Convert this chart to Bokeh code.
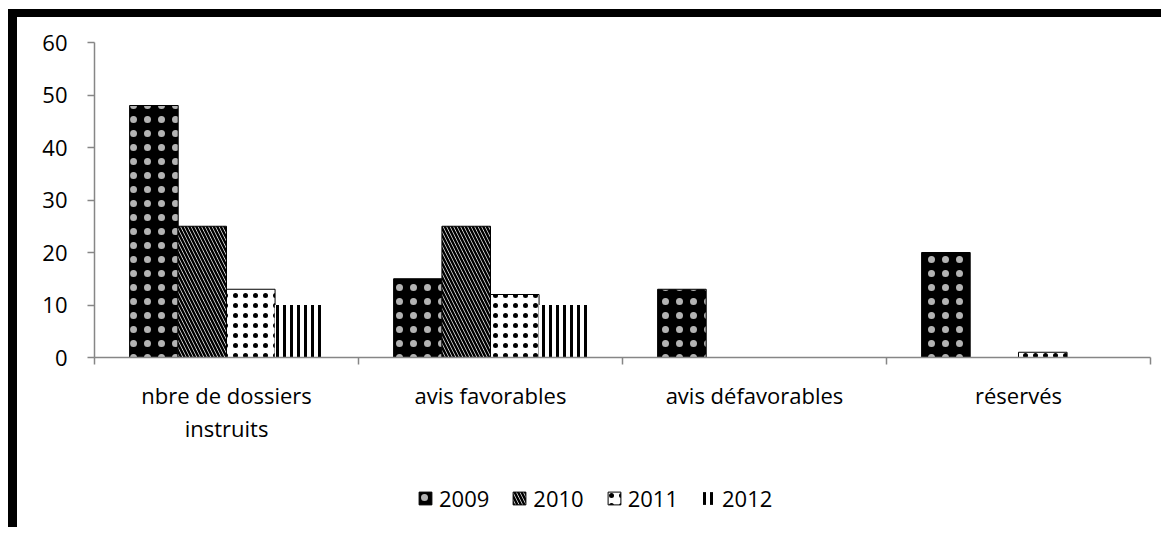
from bokeh.plotting import figure
from bokeh.layouts import column
from bokeh.models import Range1d, FixedTicker, Legend, LegendItem, ColumnDataSource
from bokeh.transform import dodge
from bokeh.embed import file_html
from bokeh.resources import INLINE

categories = ["nbre de dossiers\ninstruits", "avis favorables", "avis défavorables", "réservés"]
years = ["2009", "2010", "2011", "2012"]
v2009 = [48, 15, 13, 20]
v2010 = [25, 25, 0, 0]
v2011 = [13, 12, 0, 1]
v2012 = [10, 10, 0, 0]
y_ticks = [0, 10, 20, 30, 40, 50, 60]

FONT = "Open Sans"
FS = "22px"

pos = [i + 0.5 for i in range(len(categories))]
src = ColumnDataSource(dict(x=pos, v2009=v2009, v2010=v2010, v2011=v2011, v2012=v2012))

p = figure(width=1161, height=460, output_backend="svg", toolbar_location=None,
           x_range=Range1d(0, len(categories)), y_range=Range1d(0, 60),
           min_border_left=94, min_border_top=42, min_border_right=11, min_border_bottom=103)
p.outline_line_color = None
p.xgrid.visible = False
p.ygrid.visible = False
p.background_fill_color = "white"
p.border_fill_color = None

bw = 0.184
styles = [
    dict(fill_color="black", line_color="black", hatch_pattern="dot", hatch_color="white",
         hatch_scale=14, hatch_weight=0.5, hatch_alpha=0.7),
    dict(fill_color="white", line_color="black", hatch_pattern="left_diagonal_line",
         hatch_color="black", hatch_scale=7, hatch_weight=2.5),
    dict(fill_color="white", line_color="black", hatch_pattern="dot", hatch_color="black",
         hatch_scale=10, hatch_weight=4),
    dict(fill_color="white", line_color=None, hatch_pattern="vertical_line",
         hatch_color="black", hatch_scale=7, hatch_weight=3),
]
offsets = [-0.275, -0.092, 0.092, 0.275]
for yr, off, st in zip(years, offsets, styles):
    p.vbar(x=dodge("x", off, range=p.x_range), top="v" + yr, width=bw, bottom=0,
           source=src, line_width=1, **st)

for ax in (p.xaxis[0], p.yaxis[0]):
    ax.axis_line_color = "#868686"
    ax.axis_line_width = 1.5
    ax.major_tick_line_color = "#868686"
    ax.minor_tick_line_color = "#868686"
    ax.major_tick_line_width = 1.5
    ax.minor_tick_line_width = 1.5
    ax.major_label_text_font = FONT
    ax.major_label_text_font_size = FS
    ax.major_label_text_color = "black"

p.yaxis.ticker = FixedTicker(ticks=y_ticks, minor_ticks=[])
p.yaxis.major_tick_in = 0
p.yaxis.major_tick_out = 7
p.yaxis.minor_tick_out = 0
p.yaxis.major_label_standoff = 20

p.xaxis.ticker = FixedTicker(ticks=pos, minor_ticks=list(range(len(categories) + 1)))
p.xaxis.major_label_overrides = {x: c for x, c in zip(pos, categories)}
p.xaxis.major_tick_in = 0
p.xaxis.major_tick_out = 0
p.xaxis.minor_tick_in = 0
p.xaxis.minor_tick_out = 7
p.xaxis.major_label_standoff = 15
p.xaxis.major_label_text_line_height = 1.1

# legend strip (its bars sit outside its visible range; only the legend is seen)
lg = figure(width=1161, height=67, output_backend="svg", toolbar_location=None,
            x_range=Range1d(100, 101), y_range=Range1d(100, 101),
            x_axis_location=None, y_axis_location=None,
            min_border_left=0, min_border_right=0, min_border_top=0, min_border_bottom=0)
lg.outline_line_color = None
lg.xgrid.visible = False
lg.ygrid.visible = False
lg.background_fill_color = None
lg.border_fill_color = None
proxies = [lg.vbar(x="x", top="v" + yr, width=bw, bottom=0, source=src, line_width=1, **st)
           for yr, st in zip(years, styles)]

legend = Legend(items=[LegendItem(label=y, renderers=[r]) for y, r in zip(years, proxies)],
                orientation="horizontal", location=(323, 14),
                glyph_width=16, glyph_height=16, label_standoff=6, spacing=22,
                padding=0, margin=0, border_line_color=None, background_fill_alpha=0,
                label_text_font=FONT, label_text_font_size=FS, label_text_color="black",
                label_height=16)
lg.add_layout(legend, "center")

layout = column(p, lg, spacing=0,
                styles={"background": "linear-gradient(black, black) 8px 9px / 9px 100% no-repeat, "
                                      "linear-gradient(black, black) 8px 9px / 100% 8px no-repeat, white"})

open("out.html", "w").write(file_html(layout, INLINE))
